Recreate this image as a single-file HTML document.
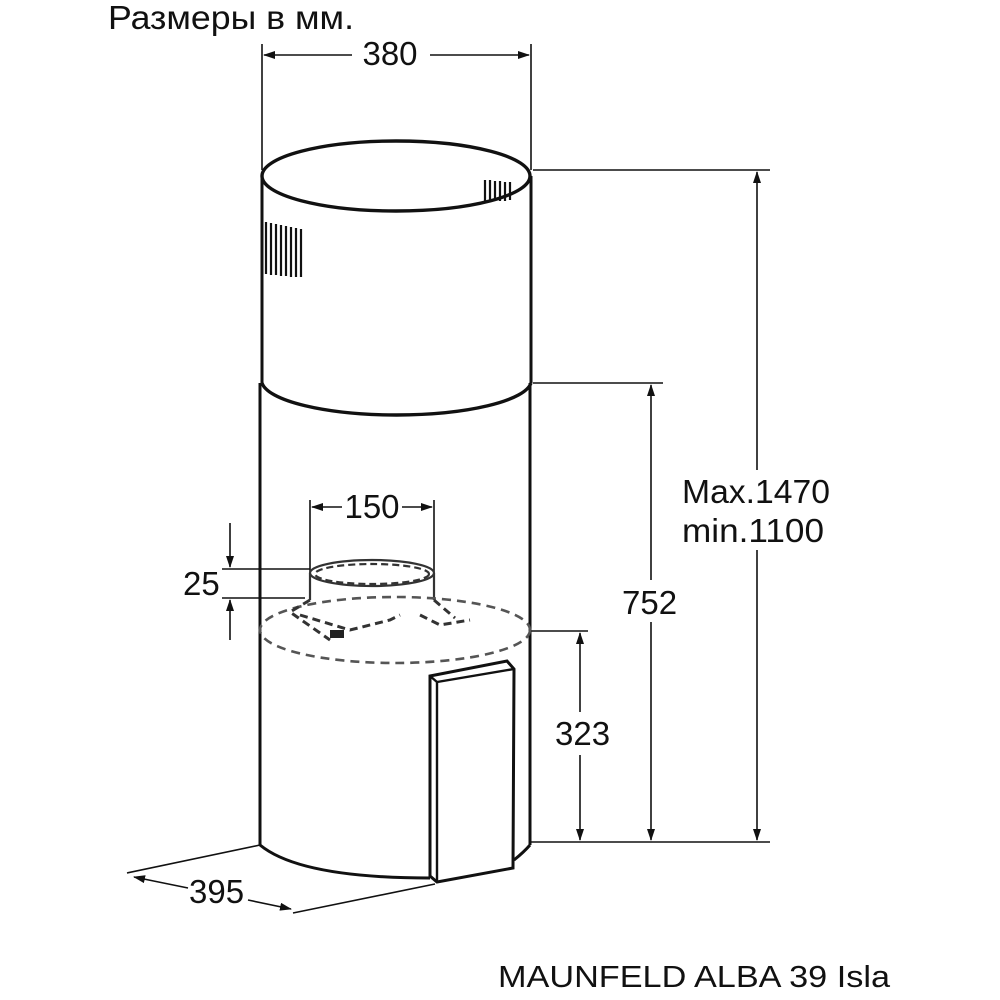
<!DOCTYPE html>
<html><head><meta charset="utf-8"><style>body{margin:0;background:#fff}svg{display:block}</style></head><body>
<svg width="1000" height="1000" viewBox="0 0 1000 1000" xmlns="http://www.w3.org/2000/svg">
<defs><marker id="a" markerWidth="12" markerHeight="8" refX="11" refY="4" orient="auto-start-reverse" markerUnits="userSpaceOnUse"><path d="M0,0 L12,4 L0,8 Z" fill="#111"/></marker></defs>
<g font-family="Liberation Sans, sans-serif" fill="#111">
<text x="108" y="29" font-size="33" textLength="246" lengthAdjust="spacingAndGlyphs">Размеры в мм.</text>
<text x="390" y="65" font-size="33" text-anchor="middle">380</text>
<text x="372" y="518" font-size="33" text-anchor="middle">150</text>
<text x="183" y="595" font-size="33">25</text>
<text x="682" y="503" font-size="33" textLength="148" lengthAdjust="spacingAndGlyphs">Max.1470</text>
<text x="682" y="542" font-size="33" textLength="142" lengthAdjust="spacingAndGlyphs">min.1100</text>
<text x="622" y="614" font-size="33">752</text>
<text x="555" y="745" font-size="33">323</text>
<text x="189" y="903" font-size="33">395</text>
<text x="498" y="987" font-size="31" textLength="392" lengthAdjust="spacingAndGlyphs">MAUNFELD ALBA 39 Isla</text>
</g>
<g stroke="#111" fill="none" stroke-width="1.6">
<line x1="262" y1="44" x2="262" y2="170"/><line x1="531" y1="44" x2="531" y2="170"/>
<line x1="264" y1="55" x2="352" y2="55" marker-start="url(#a)"/><line x1="430" y1="55" x2="529" y2="55" marker-end="url(#a)"/>
<line x1="533" y1="170" x2="770" y2="170"/><line x1="757" y1="172" x2="757" y2="470" marker-start="url(#a)"/><line x1="757" y1="550" x2="757" y2="840" marker-end="url(#a)"/>
<line x1="533" y1="383" x2="663" y2="383"/><line x1="651" y1="385" x2="651" y2="580" marker-start="url(#a)"/><line x1="651" y1="622" x2="651" y2="840" marker-end="url(#a)"/>
<line x1="530" y1="631" x2="588" y2="631"/><line x1="580" y1="633" x2="580" y2="712" marker-start="url(#a)"/><line x1="580" y1="755" x2="580" y2="840" marker-end="url(#a)"/>
<line x1="530" y1="842" x2="770" y2="842"/>
<line x1="310" y1="500" x2="310" y2="572"/><line x1="434" y1="500" x2="434" y2="572"/>
<line x1="312" y1="507" x2="342" y2="507" marker-start="url(#a)"/><line x1="402" y1="507" x2="432" y2="507" marker-end="url(#a)"/>
<line x1="222" y1="569" x2="310" y2="569"/><line x1="222" y1="598" x2="305" y2="598"/>
<line x1="230" y1="523" x2="230" y2="567" marker-end="url(#a)"/><line x1="230" y1="640" x2="230" y2="600" marker-end="url(#a)"/>
<line x1="260" y1="845" x2="127" y2="873"/><line x1="435" y1="884" x2="293" y2="913"/>
<line x1="134" y1="877" x2="188" y2="888" marker-start="url(#a)"/><line x1="248" y1="900" x2="291" y2="909" marker-end="url(#a)"/>
</g>
<g stroke="#111" fill="none" stroke-width="3">
<ellipse cx="396" cy="176" rx="134" ry="35" stroke-width="3.4"/>
<line x1="262" y1="176" x2="262" y2="383"/><line x1="531" y1="176" x2="531" y2="383"/>
<path d="M262,383 A135,35 0 0 0 531,383" stroke-width="3.4"/>
<line x1="260" y1="383" x2="260" y2="845"/><line x1="530" y1="383" x2="530" y2="845"/>
<path d="M260,845 Q300,878 430,878"/>
<path d="M514,860 Q524,852 530,845"/>
<path d="M430,676 L507,661 L514,669 L513,868 L437,882 L430,876 Z" fill="#fff"/>
<path d="M430,676 L437,682 L514,669 M437,682 L437,882" stroke-width="2.4"/>
</g>
<g stroke="#111" stroke-width="2.2">
<path d="M266,222 v52 M271,223 v52 M276,224 v51 M281,225 v51 M286,226 v50 M291,227 v50 M296,228 v49 M301,229 v48"/>
<path d="M485,180 v21 M490,180 v21 M495,181 v20 M500,181 v20 M505,182 v19 M510,182 v18"/>
</g>
<g stroke="#333" fill="none" stroke-width="2.2">
<ellipse cx="372" cy="573" rx="62" ry="13"/>
<ellipse cx="372" cy="574" rx="57" ry="10" stroke-dasharray="7 4"/>
<line x1="310" y1="573" x2="310" y2="600"/><line x1="434" y1="573" x2="434" y2="600"/>
<ellipse cx="395" cy="630" rx="135" ry="33" stroke-dasharray="9 6" stroke-width="2.6" stroke="#555"/>
<path d="M310,600 L290,612 L330,640 M434,600 L455,618 M300,615 L350,630 L390,620 L400,615 M420,615 L440,625 L470,620" stroke-dasharray="8 5" stroke-width="3"/>
</g>
<rect x="330" y="630" width="14" height="8" fill="#222"/>
</svg>
</body></html>
